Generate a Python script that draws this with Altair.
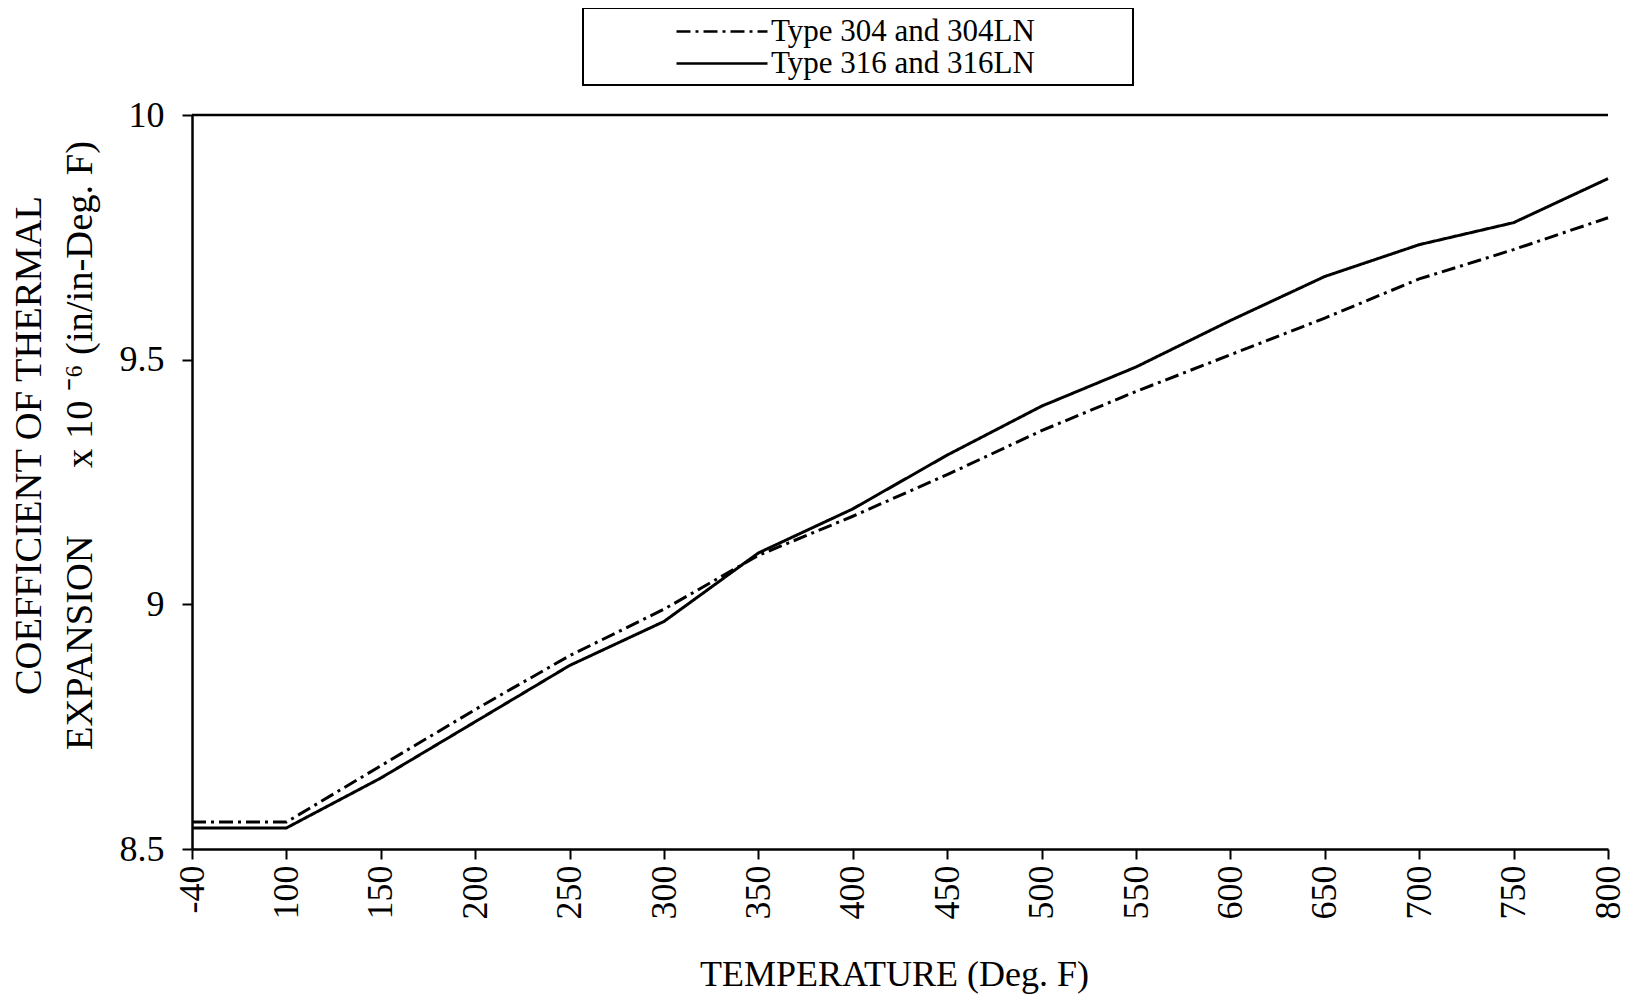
import altair as alt
import pandas as pd

temps = ["-40", "100", "150", "200", "250", "300", "350", "400", "450",
         "500", "550", "600", "650", "700", "750", "800"]
cte_304 = [8.555, 8.555, 8.67, 8.785, 8.895, 8.99, 9.10, 9.18, 9.265,
           9.355, 9.435, 9.51, 9.585, 9.665, 9.725, 9.79]
cte_316 = [8.543, 8.543, 8.645, 8.76, 8.875, 8.965, 9.105, 9.195, 9.305,
           9.405, 9.485, 9.58, 9.67, 9.735, 9.78, 9.87]
series_names = ["Type 304 and 304LN", "Type 316 and 316LN"]
y_ticks = [8.5, 9, 9.5, 10]

rows = []
for name, vals in zip(series_names, [cte_304, cte_316]):
    for t, v in zip(temps, vals):
        rows.append({"temp": t, "cte": v, "series": name})
df = pd.DataFrame(rows)

W, H = 1416, 734
FONT = "Liberation Serif"

lines = alt.Chart(df).mark_line(color="black", strokeWidth=3).encode(
    x=alt.X("temp:O", sort=temps,
            scale=alt.Scale(type="point", padding=0),
            axis=alt.Axis(title="TEMPERATURE (Deg. F)", labelAngle=-90,
                          labelAlign="right", labelBaseline="middle",
                          labelPadding=6, titleY=136, titleX=702,
                          titleFontSize=36,
                          titleBaseline="alphabetic")),
    y=alt.Y("cte:Q", scale=alt.Scale(domain=[8.5, 10], nice=False, zero=False),
            axis=alt.Axis(values=y_ticks, format="~g", grid=False,
                          title=["COEFFICIENT OF THERMAL",
                                 "EXPANSION\u2003\u2002 x 10 \u207b\u2076 (in/in-Deg. F)"],
                          titleX=-144, titleY=330, titleLineHeight=51,
                          titleFontSize=38.5,
                          labelPadding=18)),
    strokeDash=alt.StrokeDash("series:N",
                              scale=alt.Scale(domain=series_names,
                                              range=[[14, 5, 3, 5], [1, 0]]),
                              legend=alt.Legend(title=None, orient="none",
                                                legendX=483, legendY=-99,
                                                symbolType="stroke",
                                                symbolSize=8281,
                                                symbolStrokeWidth=2.5,
                                                symbolStrokeColor="black",
                                                clipHeight=31, rowPadding=0,
                                                padding=0, labelOffset=2,
                                                labelFont=FONT,
                                                labelFontSize=31,
                                                labelColor="black",
                                                labelLimit=500)),
)

top_border = alt.Chart(alt.Data(values=[{}])).mark_rule(
    color="black", strokeWidth=2.5
).encode(x=alt.value(0), x2=alt.value(W), y=alt.value(0))

legend_box = alt.Chart(alt.Data(values=[{}])).mark_rect(
    filled=False, stroke="black", strokeWidth=2
).encode(x=alt.value(391), x2=alt.value(941), y=alt.value(-107), y2=alt.value(-30))

chart = alt.layer(lines, top_border, legend_box).properties(
    width=W, height=H,
    autosize=alt.AutoSizeParams(type="none"),
    padding={"left": 184, "top": 107, "right": 18, "bottom": 146},
    background="white",
).configure_view(stroke=None).configure_axis(
    domainColor="black", domainWidth=2.5, tickColor="black", tickWidth=2,
    tickSize=10, labelFont=FONT, labelFontSize=36, labelColor="black",
    titleFont=FONT, titleColor="black", titleFontWeight="normal",
)

chart.save("out.html", embed_options={"renderer": "svg", "actions": False})
